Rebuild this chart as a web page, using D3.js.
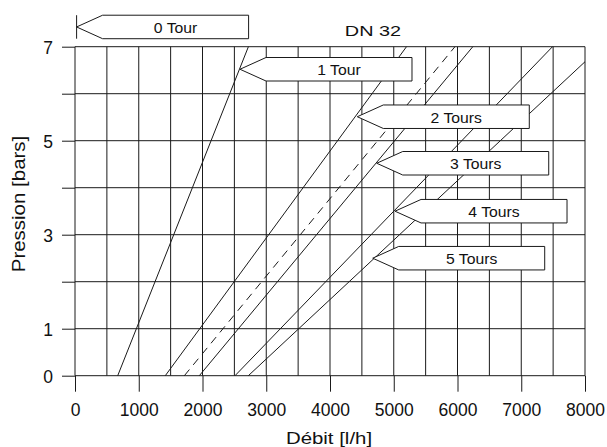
<!DOCTYPE html>
<html>
<head>
<meta charset="utf-8">
<script src="https://cdn.jsdelivr.net/npm/d3@7"></script>
<style>
  html, body { margin: 0; padding: 0; background: #fff; }
  svg { display: block; }
  text { font-family: "Liberation Sans", Arial, Helvetica, sans-serif; fill: #111; }
</style>
</head>
<body>
<svg id="chart" width="607" height="447"></svg>
<script>
// ---- data ----
const title = "DN 32";
const xAxisTitle = "Débit [l/h]";
const yAxisTitle = "Pression [bars]";
const xTickValues = [0, 1000, 2000, 3000, 4000, 5000, 6000, 7000, 8000];
const xGridValues = [0, 500, 1000, 1500, 2000, 2500, 3000, 3500, 4000, 4500, 5000, 5500, 6000, 6500, 7000, 7500, 8000];
const yGridValues = [0, 1, 2, 3, 4, 5, 6, 7];
const yTickLabels = [0, 1, 3, 5, 7];

const seriesNames = ["1 Tour", "2 Tours", "intermédiaire", "3 Tours", "4 Tours", "5 Tours"];
const seriesFlow = [[670, 2720], [1416, 5200], [1715, 5960], [1950, 6240], [2510, 7490], [2719, 8000]];
const seriesPressure = [[0, 7], [0, 7], [0, 7], [0, 7], [0, 7], [0, 6.68]];
const seriesDashed = [false, false, true, false, false, false];

const labelTexts = ["0 Tour", "1 Tour", "2 Tours", "3 Tours", "4 Tours", "5 Tours"];
const labelFlow = [25, 2588, 4428, 4733, 5020, 4670];
const labelPressure = [7.42, 6.52, 5.51, 4.52, 3.5, 2.5];

// ---- layout / style ----
const svg = d3.select("#chart");
const x = d3.scaleLinear().domain([0, 8000]).range([75, 585]);
const y = d3.scaleLinear().domain([0, 7]).range([375.7, 46.7]);
const ink = "#1a1a1a";
const FONT = "Liberation Sans, Arial, sans-serif";

// horizontal stretch helper (reference text is drawn slightly wide)
function stretch(sel, factor) {
  sel.each(function () {
    const w = this.getComputedTextLength();
    d3.select(this).attr("textLength", w * factor).attr("lengthAdjust", "spacingAndGlyphs");
  });
}

// grid
const grid = svg.append("g");
grid.selectAll("line.v").data(xGridValues).join("line")
  .attr("x1", d => x(d)).attr("x2", d => x(d))
  .attr("y1", y(7)).attr("y2", y(0))
  .attr("stroke", ink).attr("stroke-width", 1);
grid.selectAll("line.h").data(yGridValues).join("line")
  .attr("x1", x(0)).attr("x2", x(8000))
  .attr("y1", d => y(d)).attr("y2", d => y(d))
  .attr("stroke", ink).attr("stroke-width", 1);

// x axis
const xAxis = svg.append("g").attr("transform", `translate(0,${y(0)})`)
  .call(d3.axisBottom(x).tickValues(xTickValues).tickSize(16).tickPadding(12).tickFormat(d3.format("d")));
xAxis.select(".domain").remove();
xAxis.selectAll(".tick line").attr("stroke", ink);
xAxis.selectAll(".tick text").attr("font-size", 17.5).attr("font-family", FONT).attr("fill", "#111");

// y axis
const yAxis = svg.append("g").attr("transform", `translate(${x(0)},0)`)
  .call(d3.axisLeft(y).tickValues(yGridValues).tickSize(13).tickPadding(9)
    .tickFormat(d => yTickLabels.includes(d) ? d : ""));
yAxis.select(".domain").remove();
yAxis.selectAll(".tick line").attr("stroke", ink);
yAxis.selectAll(".tick text").attr("font-size", 17.5).attr("font-family", FONT).attr("fill", "#111").attr("dy", "0.38em");

// curves
const line = d3.line().x(d => x(d[0])).y(d => y(d[1]));
const curves = seriesNames.map((n, i) => ({
  name: n,
  dashed: seriesDashed[i],
  pts: seriesFlow[i].map((f, j) => [f, seriesPressure[i][j]])
}));
svg.append("g").selectAll("path").data(curves).join("path")
  .attr("d", d => line(d.pts))
  .attr("fill", "none")
  .attr("stroke", ink)
  .attr("stroke-width", 1)
  .attr("stroke-dasharray", d => d.dashed ? "8,6" : null);

// labels (arrow boxes)
const boxW = 146, boxH = 23.5, arrowW = 26;
const labels = labelTexts.map((t, i) => ({ text: t, tx: x(labelFlow[i]), ty: y(labelPressure[i]), i }));
const lg = svg.append("g").selectAll("g").data(labels).join("g");
lg.append("path")
  .attr("d", d => {
    const l = d.tx + arrowW, t = d.ty - boxH / 2, b = d.ty + boxH / 2, r = l + boxW;
    return `M${d.tx},${d.ty}L${l},${t}L${r},${t}L${r},${b}L${l},${b}Z`;
  })
  .attr("fill", "#fff").attr("stroke", ink).attr("stroke-width", 1);
lg.filter(d => d.i === 0).append("line")
  .attr("x1", d => d.tx).attr("x2", d => d.tx)
  .attr("y1", d => d.ty - boxH / 2).attr("y2", d => d.ty + boxH / 2)
  .attr("stroke", ink).attr("stroke-width", 1);
const lt = lg.append("text")
  .attr("x", d => d.tx + arrowW + boxW / 2)
  .attr("y", d => d.ty + 6)
  .attr("text-anchor", "middle")
  .attr("font-size", 15)
  .text(d => d.text);
stretch(lt, 1.05);

// title
const tt = svg.append("text").attr("x", 373).attr("y", 35.5).attr("text-anchor", "middle")
  .attr("font-size", 15.5).text(title);
stretch(tt, 1.28);

// axis titles
const xt = svg.append("text").attr("x", 329).attr("y", 444).attr("text-anchor", "middle")
  .attr("font-size", 17).text(xAxisTitle);
stretch(xt, 1.2);
const yt = svg.append("text").attr("transform", "translate(25,204) rotate(-90)")
  .attr("text-anchor", "middle").attr("font-size", 17.5).text(yAxisTitle);
stretch(yt, 1.17);
</script>
</body>
</html>
